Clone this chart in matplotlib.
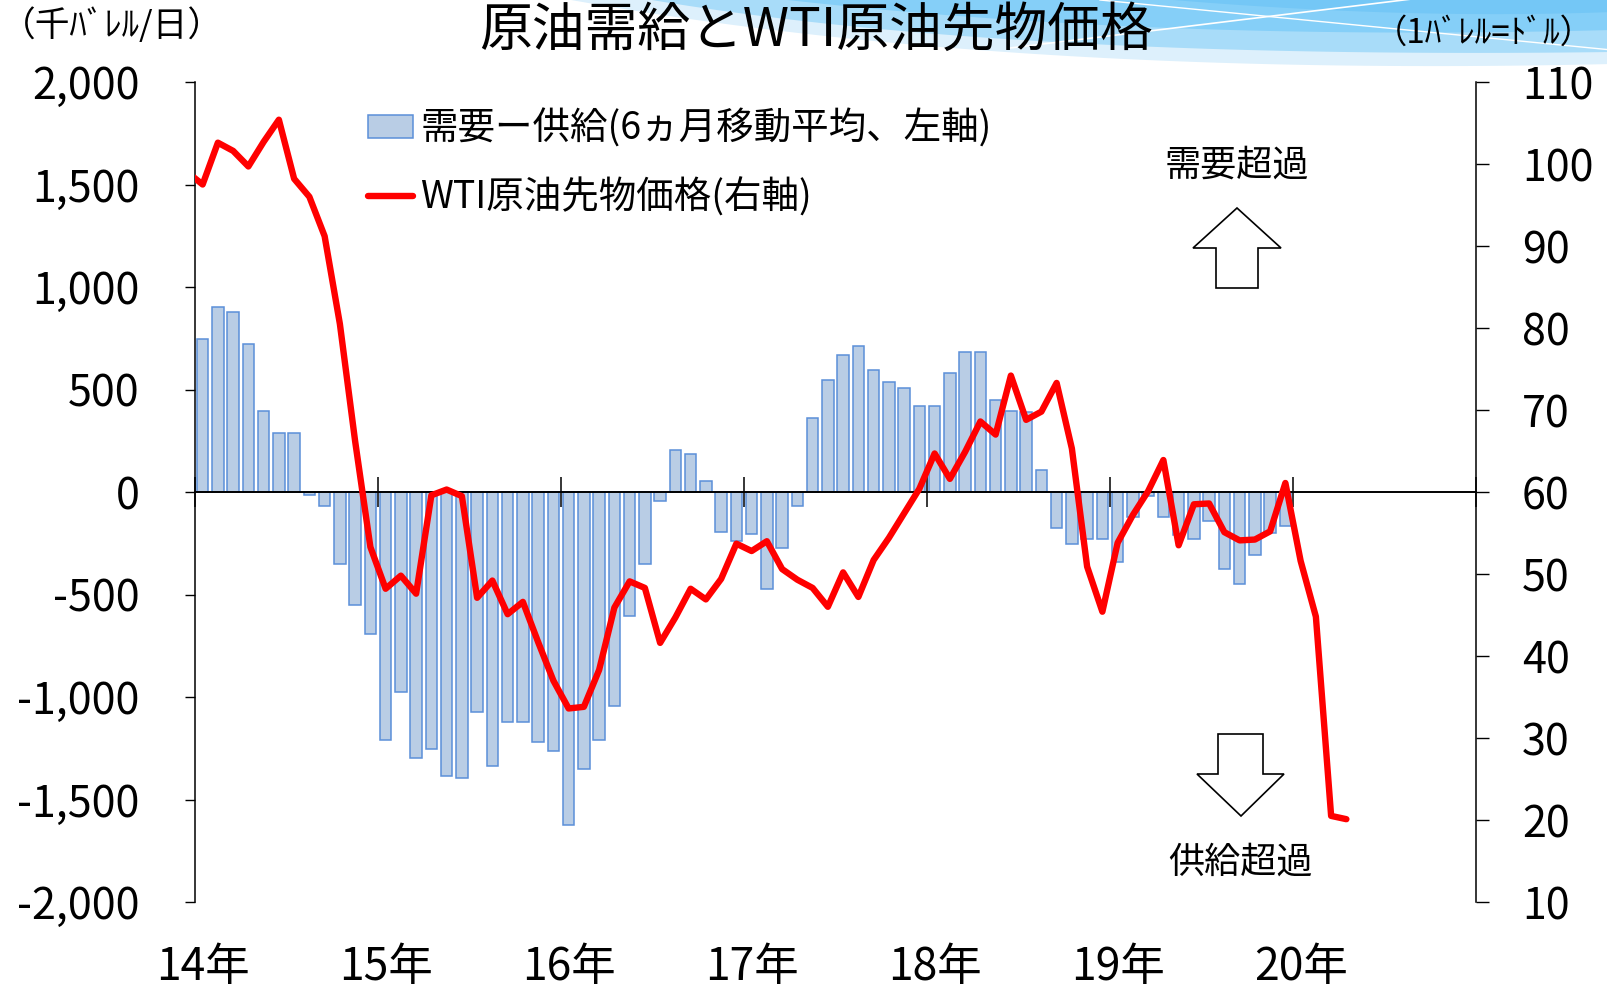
import numpy as np
import matplotlib
matplotlib.use('Agg')
import matplotlib.pyplot as plt
from matplotlib.patches import Polygon, Rectangle
from matplotlib.lines import Line2D

plt.rcParams['font.family'] = ['Noto Sans CJK JP', 'DejaVu Sans']

# ---------------- data ----------------
year_labels = ['14年', '15年', '16年', '17年', '18年', '19年', '20年']

# demand - supply, 6-month moving average (thousand barrels/day), Jan 2014 - Dec 2019
balance_2014 = [747, 904, 878, 721, 394, 290, 290, -17, -70, -352, -553, -693]
balance_2015 = [-1211, -975, -1298, -1255, -1387, -1396, -1071, -1335, -1124, -1124, -1220, -1265]
balance_2016 = [-1625, -1351, -1211, -1045, -606, -353, -44, 203, 185, 52, -195, -240]
balance_2017 = [-203, -475, -273, -70, 361, 545, 668, 712, 597, 537, 509, 421]
balance_2018 = [421, 580, 685, 685, 447, 395, 390, 106, -176, -255, -228, -228]
balance_2019 = [-341, -122, -20, -122, -211, -228, -141, -377, -447, -306, -200, -166]

# WTI futures price (USD/bbl), Dec 2013 - Apr 2020
wti_2013 = [99.0]
wti_2014 = [97.5, 102.6, 101.6, 99.7, 102.7, 105.4, 98.2, 96.0, 91.2, 80.5, 66.2, 53.3]
wti_2015 = [48.2, 49.8, 47.6, 59.6, 60.3, 59.5, 47.1, 49.2, 45.1, 46.6, 41.7, 37.0]
wti_2016 = [33.6, 33.8, 38.3, 45.9, 49.1, 48.3, 41.6, 44.7, 48.2, 46.9, 49.4, 53.7]
wti_2017 = [52.8, 54.0, 50.6, 49.3, 48.3, 46.0, 50.2, 47.2, 51.7, 54.4, 57.4, 60.4]
wti_2018 = [64.7, 61.6, 64.9, 68.6, 67.0, 74.2, 68.8, 69.8, 73.3, 65.3, 50.9, 45.4]
wti_2019 = [53.8, 57.2, 60.1, 63.9, 53.5, 58.5, 58.6, 55.1, 54.1, 54.2, 55.2, 61.1]
wti_2020 = [51.6, 44.8, 20.5, 20.1]

left_ticks = [-2000, -1500, -1000, -500, 0, 500, 1000, 1500, 2000]
right_ticks = [10, 20, 30, 40, 50, 60, 70, 80, 90, 100, 110]

balance = (balance_2014 + balance_2015 + balance_2016 + balance_2017
           + balance_2018 + balance_2019)
wti = wti_2013 + wti_2014 + wti_2015 + wti_2016 + wti_2017 + wti_2018 + wti_2019 + wti_2020
n_months = 12 * len(year_labels)
bar_x = np.arange(len(balance))
wti_x = np.arange(len(wti)) - 1          # starts at Dec 2013 (clipped by the axis)

BAR_FACE = '#B9CDE5'
BAR_EDGE = '#5B8FD9'
RED = '#FF0000'

# ---------------- figure ----------------
W, H = 1607, 988
fig = plt.figure(figsize=(W / 100, H / 100), dpi=100)
fig.patch.set_facecolor('white')

# background / annotation layer in pixel coordinates
bg = fig.add_axes([0, 0, 1, 1], zorder=0)
bg.set_xlim(0, W)
bg.set_ylim(H, 0)
bg.axis('off')


def bez(p0, p1, p2, n=60):
    t = np.linspace(0, 1, n)[:, None]
    p0, p1, p2 = map(np.asarray, (p0, p1, p2))
    return (1 - t) ** 2 * p0 + 2 * (1 - t) * t * p1 + t ** 2 * p2


def band(p0, p1, p2, color):
    curve = bez(p0, p1, p2)
    pts = np.vstack([curve, [[W + 5, -5], [p0[0], -5]]])
    bg.add_patch(Polygon(pts, closed=True, facecolor=color, edgecolor='none'))


band((560, -2), (1000, 78), (W + 5, 64), '#DDF0FC')
band((640, -2), (1000, 60), (W + 5, 52), '#A8DCF9')
band((770, -2), (1150, 42), (W + 5, 30), '#85CFF8')
band((1150, -2), (1400, 20), (W + 5, 12), '#74C7F6')
bg.plot([1010, 1420], [48, -2], color='white', lw=1.2)
bg.plot([1100, W + 5], [0, 50], color='white', lw=1.0)

# title
bg.text(816, 3, '原油需給とWTI原油先物価格', ha='center', va='top',
        fontsize=38, color='black')

# unit labels
bg.text(1, 26, '（千ﾊﾞﾚﾙ/日）', ha='left', va='center', fontsize=25)
bg.text(1594, 33, '（1ﾊﾞﾚﾙ=ﾄﾞﾙ）', ha='right', va='center', fontsize=24)

# arrows and annotations
up = [(1237, 208), (1281, 248), (1258, 248), (1258, 288), (1216, 288), (1216, 248), (1193, 248)]
down = [(1218, 734), (1263, 734), (1263, 774), (1284, 774), (1241, 816), (1197, 774), (1218, 774)]
for shape in (up, down):
    bg.add_patch(Polygon(shape, closed=True, facecolor='white', edgecolor='black', lw=1.2))
bg.text(1237, 166, '需要超過', ha='center', va='center', fontsize=26)
bg.text(1240, 863, '供給超過', ha='center', va='center', fontsize=26)

# ---------------- main axes ----------------
L, R, T, B = 195, 1476, 82, 902
ax = fig.add_axes([L / W, 1 - B / H, (R - L) / W, (B - T) / H], zorder=1)
ax.patch.set_visible(False)

ax.bar(bar_x, balance, width=0.76, color=BAR_FACE, edgecolor=BAR_EDGE, linewidth=1.1,
       zorder=2)
ax.set_xlim(-0.5, n_months - 0.5)
ax.set_ylim(-2000, 2000)
ax.set_yticks(left_ticks)
ax.set_yticklabels([f'{v:,}' for v in left_ticks])
ax.tick_params(axis='y', direction='out', length=7, width=1.0, pad=33, labelsize=31)

for s in ('top', 'right'):
    ax.spines[s].set_visible(False)
ax.spines['left'].set_linewidth(1.1)
ax.spines['bottom'].set_position(('data', 0))
ax.spines['bottom'].set_linewidth(1.4)
ax.spines['bottom'].set_zorder(3)
ax.set_xticks(np.arange(-0.5, n_months, 12))
ax.tick_params(axis='x', direction='inout', length=21, width=1.1, labelbottom=False)

sec = ax.secondary_xaxis(0.0)
sec.set_xticks(np.arange(0, n_months, 12))
sec.set_xticklabels(year_labels)
sec.tick_params(axis='x', length=0, pad=30, labelsize=32)
sec.spines['bottom'].set_visible(False)

# ---------------- right axis ----------------
ax2 = ax.twinx()
ax2.set_zorder(2)
ax2.patch.set_visible(False)
ax2.plot(wti_x, wti, color=RED, lw=4.6, solid_joinstyle='round', solid_capstyle='round',
         zorder=3)
ax2.set_ylim(10, 110)
ax2.set_yticks(right_ticks)
ax2.set_yticklabels([str(v) for v in right_ticks])
ax2.tick_params(axis='y', direction='out', length=9, width=1.0, pad=24, labelsize=31)
for s in ('top', 'left', 'bottom'):
    ax2.spines[s].set_visible(False)
ax2.spines['right'].set_linewidth(1.1)
ax2.set_xlim(-0.5, n_months - 0.5)

handles = [Rectangle((0, 0), 1, 1, facecolor=BAR_FACE, edgecolor=BAR_EDGE, lw=1.1),
           Line2D([], [], color=RED, lw=4.6, solid_capstyle='round')]
labels = ['需要ー供給(6ヵ月移動平均、左軸)', 'WTI原油先物価格(右軸)']
ax2.legend(handles, labels, loc='center left', bbox_to_anchor=(368 / W, 1 - 163.5 / H),
           bbox_transform=fig.transFigure, frameon=False, borderpad=0, borderaxespad=0,
           handlelength=1.2, handleheight=0.55, handletextpad=0.2, labelspacing=0.77,
           fontsize=27)

fig.savefig('out.png', dpi=100)
